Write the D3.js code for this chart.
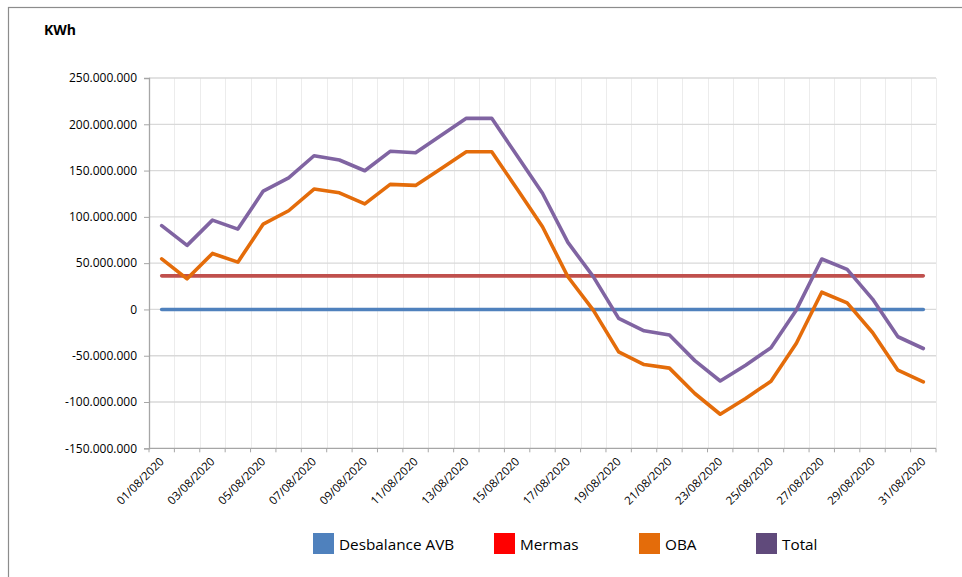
<!DOCTYPE html>
<html>
<head>
<meta charset="utf-8">
<script src="https://cdn.jsdelivr.net/npm/d3@7"></script>
<style>
  html, body { margin: 0; padding: 0; background: #fff; }
  svg { display: block; }
  text { font-family: "Open Sans", sans-serif; fill: #000; }
</style>
</head>
<body>
<svg id="chart" width="962" height="577"></svg>
<script>
const dates = ["01/08/2020","02/08/2020","03/08/2020","04/08/2020","05/08/2020","06/08/2020","07/08/2020","08/08/2020","09/08/2020","10/08/2020","11/08/2020","12/08/2020","13/08/2020","14/08/2020","15/08/2020","16/08/2020","17/08/2020","18/08/2020","19/08/2020","20/08/2020","21/08/2020","22/08/2020","23/08/2020","24/08/2020","25/08/2020","26/08/2020","27/08/2020","28/08/2020","29/08/2020","30/08/2020","31/08/2020"];

const desbalanceAVB = [0,0,0,0,0,0,0,0,0,0,0,0,0,0,0,0,0,0,0,0,0,0,0,0,0,0,0,0,0,0,0];
const mermas = [36300000,36300000,36300000,36300000,36300000,36300000,36300000,36300000,36300000,36300000,36300000,36300000,36300000,36300000,36300000,36300000,36300000,36300000,36300000,36300000,36300000,36300000,36300000,36300000,36300000,36300000,36300000,36300000,36300000,36300000,36300000];
const oba = [54700000,33100000,60500000,51100000,92200000,106600000,130000000,126000000,114100000,135100000,134000000,152000000,170300000,170300000,130000000,89300000,35300000,-800000,-45800000,-59500000,-63400000,-90800000,-113200000,-96200000,-77500000,-36500000,18600000,7100000,-24900000,-65600000,-78300000];
const total = [90600000,69200000,96500000,86800000,127900000,142200000,166000000,161400000,149800000,170800000,169300000,188000000,206400000,206400000,166000000,125500000,72400000,35400000,-9700000,-23100000,-27600000,-55300000,-77300000,-60200000,-41300000,-500000,54500000,43200000,11200000,-29500000,-42200000];

const yTicks = [-150000000,-100000000,-50000000,0,50000000,100000000,150000000,200000000,250000000];
const xLabelDates = dates.filter((d, i) => i % 2 === 0);

const seriesNames = ["Desbalance AVB", "Mermas", "OBA", "Total"];
const lineColors = ["#4F81BD", "#C0504D", "#E46C0A", "#8064A2"];
const legendColors = ["#4F81BD", "#FF0000", "#E46C0A", "#604A7B"];

const svg = d3.select("#chart");

// outer frame
svg.append("rect")
  .attr("x", 8.5).attr("y", 7.5)
  .attr("width", 1000).attr("height", 1000)
  .attr("fill", "none").attr("stroke", "#8c8c8c").attr("stroke-width", 1.2);

const plotLeft = 149, plotRight = 936, plotTop = 78, plotBottom = 448.3;

const x = d3.scalePoint().domain(dates).range([plotLeft, plotRight]).padding(0.5);
const y = d3.scaleLinear().domain([-150000000, 250000000]).range([plotBottom, plotTop]);

const locale = d3.formatLocale({decimal: ",", thousands: ".", grouping: [3], currency: ["", ""], minus: "-"});
const fmt = locale.format(",.0f");

const step = x.step();
const boundaries = d3.range(dates.length + 1).map(i => plotLeft + i * step);

// vertical gridlines
svg.append("g").selectAll("line").data(boundaries.slice(1)).join("line")
  .attr("x1", d => Math.round(d) + 0.5).attr("x2", d => Math.round(d) + 0.5)
  .attr("y1", plotTop).attr("y2", plotBottom)
  .attr("stroke", "#ececec").attr("stroke-width", 1);

// horizontal gridlines
svg.append("g").selectAll("line").data(yTicks.slice(1)).join("line")
  .attr("x1", plotLeft).attr("x2", plotRight)
  .attr("y1", d => y(d)).attr("y2", d => y(d))
  .attr("stroke", "#d9d9d9").attr("stroke-width", 1.3);

// y axis
const yAxis = svg.append("g")
  .attr("transform", `translate(${plotLeft},0)`)
  .call(d3.axisLeft(y).tickValues(yTicks).tickFormat(fmt).tickSize(5).tickPadding(7));
yAxis.select(".domain").attr("stroke", "#a6a6a6").attr("stroke-width", 1.3);
yAxis.selectAll(".tick line").attr("stroke", "#a6a6a6");
yAxis.selectAll(".tick text").attr("font-family", "Open Sans").attr("font-size", "12px").attr("fill", "#000");

// x axis line + ticks at category boundaries
const xAxisG = svg.append("g");
xAxisG.append("line")
  .attr("x1", plotLeft).attr("x2", plotRight).attr("y1", plotBottom).attr("y2", plotBottom)
  .attr("stroke", "#a6a6a6").attr("stroke-width", 1.3);
xAxisG.selectAll("line.tk").data(boundaries).join("line").attr("class", "tk")
  .attr("x1", d => d).attr("x2", d => d)
  .attr("y1", plotBottom).attr("y2", plotBottom + 4)
  .attr("stroke", "#a6a6a6");
xAxisG.selectAll("text").data(xLabelDates).join("text")
  .attr("transform", d => `translate(${x(d) + 3},${plotBottom + 14}) rotate(-45)`)
  .attr("text-anchor", "end")
  .attr("font-size", "11.5px")
  .text(d => d);

// lines
const seriesData = [desbalanceAVB, mermas, oba, total];
const line = d3.line().x((d, i) => x(dates[i])).y(d => y(d));
svg.append("g").selectAll("path").data(seriesData).join("path")
  .attr("d", d => line(d))
  .attr("fill", "none")
  .attr("stroke", (d, i) => lineColors[i])
  .attr("stroke-width", 3.6)
  .attr("stroke-linejoin", "round")
  .attr("stroke-linecap", "round");

// title
svg.append("text").attr("x", 44).attr("y", 35)
  .attr("font-size", "14px").attr("font-weight", "bold").text("KWh");

// legend
const legendX = [313, 494, 639, 756];
const lg = svg.append("g").selectAll("g").data(seriesNames).join("g")
  .attr("transform", (d, i) => `translate(${legendX[i]},533)`);
lg.append("rect").attr("width", 21).attr("height", 21)
  .attr("fill", (d, i) => legendColors[i]);
lg.append("text").attr("x", 26).attr("y", 17)
  .attr("font-size", "15.3px").attr("fill", "#1a1a1a").text(d => d);
</script>
</body>
</html>
